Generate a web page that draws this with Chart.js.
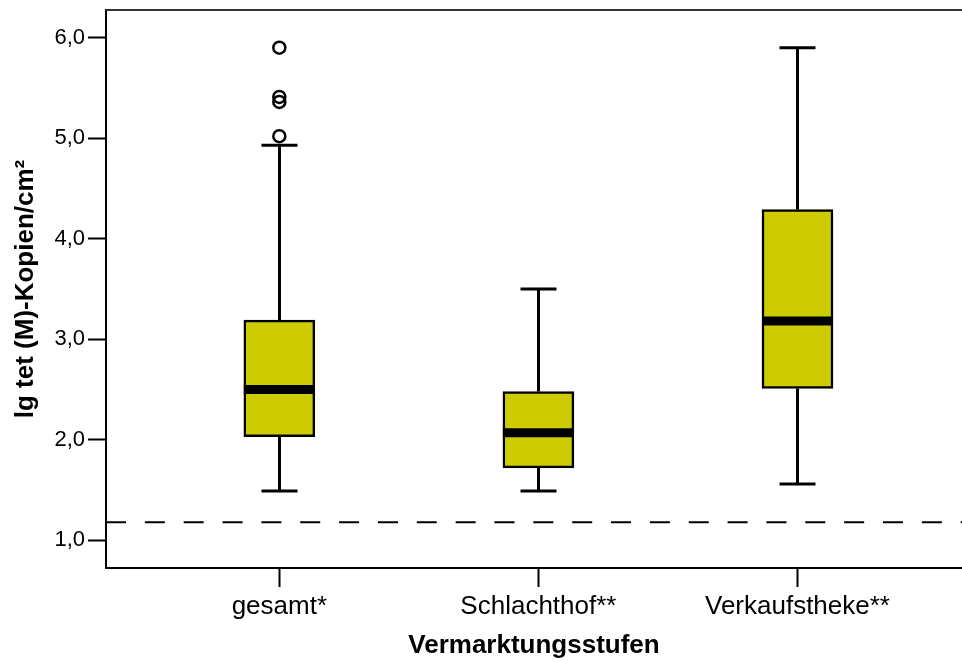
<!DOCTYPE html>
<html>
<head>
<meta charset="utf-8">
<script src="https://cdn.jsdelivr.net/npm/chart.js@4/dist/chart.umd.min.js"></script>
<style>
  html, body { margin: 0; padding: 0; background: #fff; }
  #wrap { width: 962px; height: 661px; }
</style>
</head>
<body>
<div id="wrap"><canvas id="c" width="962" height="661"></canvas></div>
<script>
// Marketing stages and their box-plot statistics (lg copies / cm²)
const categories   = ['gesamt*', 'Schlachthof**', 'Verkaufstheke**'];
const whiskerLow   = [1.49, 1.49, 1.56];
const quartile1    = [2.03, 1.72, 2.51];
const medians      = [2.50, 2.07, 3.18];
const quartile3    = [3.19, 2.48, 4.29];
const whiskerHigh  = [4.93, 3.50, 5.90];
// Outliers of "gesamt*" (category position 1)
const outlierCategory = [1, 1, 1, 1];
const outlierValues   = [5.90, 5.41, 5.36, 5.02];
// Detection limit
const detectionLimit = 1.18;
const yTicks = [1, 2, 3, 4, 5, 6];

const X_MIN = 0.331, X_MAX = 3.635;
const Y_MIN = 0.724, Y_MAX = 6.275;
const BOX_PX = 71, CAP_PX = 36;
const FONT = '"Liberation Sans", Arial, sans-serif';

const boxExtras = {
  id: 'boxExtras',
  beforeDatasetsDraw(chart) {
    const { ctx, scales: { x, y } } = chart;
    ctx.save();
    ctx.strokeStyle = '#000';
    ctx.lineWidth = 3;
    ctx.lineCap = 'butt';
    categories.forEach((c, i) => {
      const cx = Math.round(x.getPixelForValue(i + 1)) + 0.5;
      const yl = y.getPixelForValue(whiskerLow[i]);
      const yq1 = y.getPixelForValue(quartile1[i]);
      const yq3 = y.getPixelForValue(quartile3[i]);
      const yh = y.getPixelForValue(whiskerHigh[i]);
      ctx.beginPath();
      ctx.moveTo(cx, yl); ctx.lineTo(cx, yq1);
      ctx.moveTo(cx, yq3); ctx.lineTo(cx, yh);
      ctx.moveTo(cx - CAP_PX / 2, yl); ctx.lineTo(cx + CAP_PX / 2, yl);
      ctx.moveTo(cx - CAP_PX / 2, yh); ctx.lineTo(cx + CAP_PX / 2, yh);
      ctx.stroke();
    });
    ctx.restore();
  },
  afterDatasetsDraw(chart) {
    const { ctx, chartArea, scales: { x, y } } = chart;
    ctx.save();
    ctx.strokeStyle = '#000';
    ctx.lineWidth = 9;
    categories.forEach((c, i) => {
      const cx = x.getPixelForValue(i + 1);
      const ym = y.getPixelForValue(medians[i]);
      ctx.beginPath();
      ctx.moveTo(cx - BOX_PX / 2, ym); ctx.lineTo(cx + BOX_PX / 2, ym);
      ctx.stroke();
    });
    // top frame line
    ctx.lineWidth = 2;
    ctx.strokeStyle = '#333';
    ctx.beginPath();
    ctx.moveTo(chartArea.left, chartArea.top);
    ctx.lineTo(chartArea.right, chartArea.top);
    ctx.stroke();
    ctx.restore();
  }
};

// keep the plot area flush with the layout padding
function noEdgePadding(s) {
  s.paddingTop = 0; s.paddingBottom = 0; s.paddingLeft = 0; s.paddingRight = 0;
}

new Chart(document.getElementById('c'), {
  type: 'bar',
  data: {
    datasets: [
      {
        type: 'line',
        data: [{ x: X_MIN, y: detectionLimit }, { x: X_MAX, y: detectionLimit }],
        borderColor: '#000',
        borderWidth: 2,
        borderDash: [20, 18.85],
        pointRadius: 0,
        pointHoverRadius: 0,
        fill: false,
        order: 3
      },
      {
        type: 'bar',
        data: categories.map((c, i) => ({ x: i + 1, y: [quartile1[i], quartile3[i]] })),
        backgroundColor: '#cccc00',
        borderColor: '#000',
        borderWidth: 2.5,
        borderSkipped: false,
        barThickness: BOX_PX,
        order: 2
      },
      {
        type: 'scatter',
        data: outlierValues.map((v, i) => ({ x: outlierCategory[i], y: v })),
        pointStyle: 'circle',
        pointRadius: 6,
        pointBorderWidth: 2.5,
        pointBackgroundColor: 'rgba(255,255,255,0)',
        pointBorderColor: '#000',
        order: 1
      }
    ]
  },
  options: {
    responsive: false,
    animation: false,
    layout: { autoPadding: false, padding: { top: 10, right: 0, left: 0, bottom: 0 } },
    plugins: { legend: { display: false }, tooltip: { enabled: false } },
    scales: {
      x: {
        type: 'linear',
        min: X_MIN, max: X_MAX,
        offset: false,
        afterBuildTicks: s => { s.ticks = [1, 2, 3].map(v => ({ value: v })); },
        afterFit: s => { s.height = 93; noEdgePadding(s); },
        ticks: {
          autoSkip: false,
          maxRotation: 0,
          padding: 4,
          color: '#000',
          font: { family: FONT, size: 26 },
          callback: v => categories[Math.round(v) - 1]
        },
        grid: { offset: false, drawOnChartArea: false, drawTicks: true, tickLength: 19, tickWidth: 2, tickColor: '#000' },
        border: { display: true, color: '#000', width: 2 },
        title: {
          display: true,
          text: 'Vermarktungsstufen',
          color: '#000',
          font: { family: FONT, size: 26, weight: 'bold', lineHeight: 1 },
          padding: { top: 0, bottom: 2 }
        }
      },
      y: {
        type: 'linear',
        min: Y_MIN, max: Y_MAX,
        afterBuildTicks: s => { s.ticks = yTicks.map(v => ({ value: v })); },
        afterFit: s => { s.width = 106; noEdgePadding(s); },
        ticks: {
          padding: 3,
          color: '#000',
          font: { family: FONT, size: 22 },
          callback: v => v.toFixed(1).replace('.', ',')
        },
        grid: { drawOnChartArea: false, drawTicks: true, tickLength: 18, tickWidth: 2, tickColor: '#000' },
        border: { display: true, color: '#000', width: 2 },
        title: {
          display: true,
          text: 'lg tet (M)-Kopien/cm²',
          color: '#000',
          font: { family: FONT, size: 26, weight: 'bold', lineHeight: 1 },
          padding: { top: 13, bottom: 0 }
        }
      }
    }
  },
  plugins: [boxExtras]
});
</script>
</body>
</html>
